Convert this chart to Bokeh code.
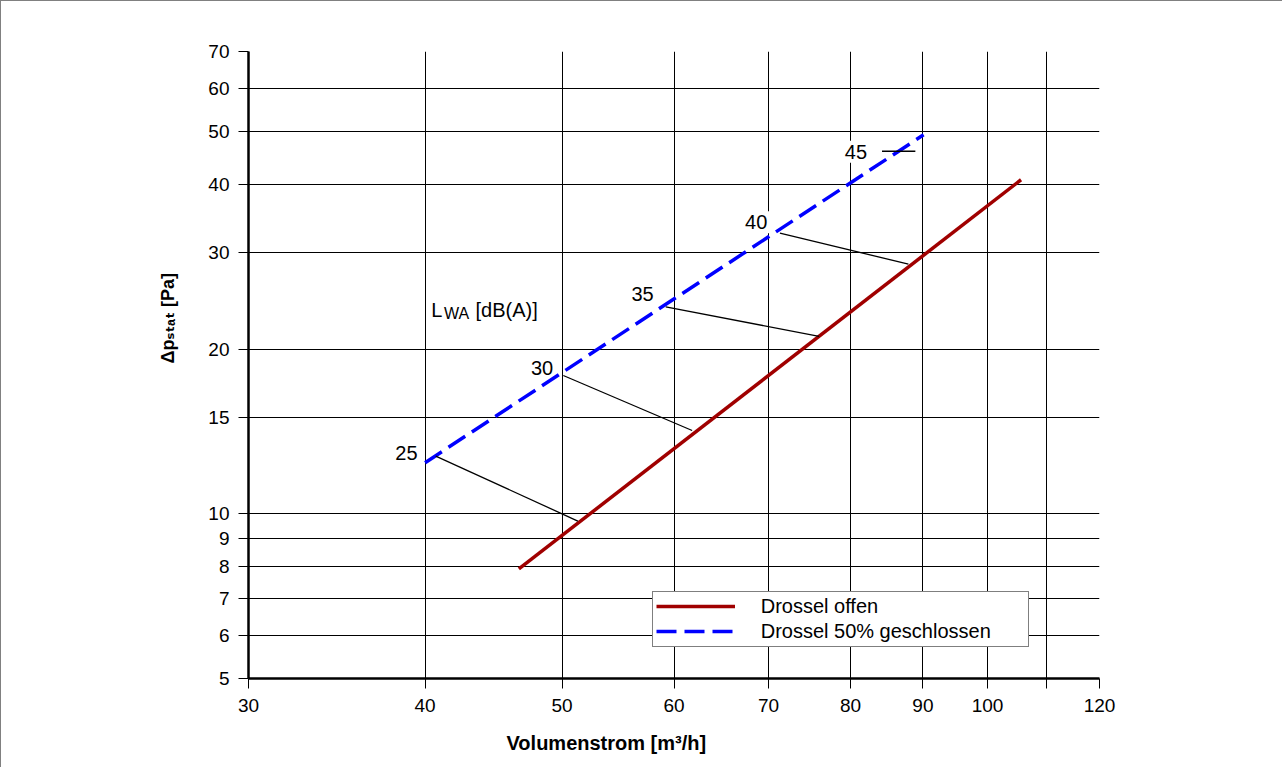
from bokeh.plotting import figure
from bokeh.models import Range1d, FixedTicker, NumeralTickFormatter, Label, Legend, LegendItem, Title
from bokeh.embed import file_html
from bokeh.resources import INLINE

# ---------------- data ----------------
x_ticks = [30, 40, 50, 60, 70, 80, 90, 100, 120]
x_minor = [110]
y_ticks = [5, 6, 7, 8, 9, 10, 15, 20, 30, 40, 50, 60, 70]

open_q = [46.6, 105.6]          # Drossel offen
open_dp = [7.93, 40.8]
half_q = [40.0, 90.1]           # Drossel 50% geschlossen
half_dp = [12.4, 49.3]

noise_levels = ["25", "30", "35", "40", "45"]
noise_q_start = [40.7, 50.1, 59.2, 71.3, 84.2]
noise_dp_start = [12.75, 17.9, 23.9, 32.6, 46.0]
noise_q_end = [51.3, 61.8, 76.0, 87.9, 88.9]
noise_dp_end = [9.7, 14.2, 21.1, 28.6, 46.0]
label_q = [38.8, 48.4, 57.0, 68.6, 80.7]
label_dp = [12.9, 18.5, 25.2, 34.1, 45.9]

lwa_q, lwa_dp = 40.4, 23.6

x_title = "Volumenstrom [m³/h]"
y_title = "Δpₛₜₐₜ [Pa]"

FONT = "Liberation Sans"

p = figure(width=1282, height=767, x_axis_type="log", y_axis_type="log",
           x_range=Range1d(30, 120), y_range=Range1d(5, 70),
           output_backend="svg", toolbar_location=None,
           min_border_left=247, min_border_right=184,
           min_border_top=50, min_border_bottom=89)
p.outline_line_color = None
p.background_fill_color = "white"
p.border_fill_color = "white"
p.styles = {"border-top": "1px solid #808080", "border-left": "1px solid #808080"}

for ax, ticks, minor in ((p.xaxis[0], x_ticks, x_minor), (p.yaxis[0], y_ticks, [])):
    ax.ticker = FixedTicker(ticks=ticks, minor_ticks=minor)
    ax.formatter = NumeralTickFormatter(format="0")
    ax.axis_line_width = 2.5
    ax.axis_line_color = "black"
    ax.major_tick_line_color = "black"
    ax.major_tick_line_width = 1
    ax.major_tick_out = 10
    ax.major_tick_in = 0
    ax.minor_tick_line_color = "black"
    ax.minor_tick_line_width = 1
    ax.minor_tick_out = 10
    ax.minor_tick_in = 0
    ax.major_label_text_font = FONT
    ax.major_label_text_font_size = "19px"
    ax.major_label_text_color = "black"
p.xaxis[0].major_label_standoff = 10
p.yaxis[0].major_label_standoff = 9

for g in (p.xgrid[0], p.ygrid[0]):
    g.grid_line_color = "black"
    g.grid_line_width = 1
    g.level = "image"
p.xgrid[0].minor_grid_line_color = "black"
p.xgrid[0].minor_grid_line_width = 1

# noise level labels (white boxes hide the grid)
for t, q, dp in zip(noise_levels, label_q, label_dp):
    p.add_layout(Label(x=q, y=dp, text=t, text_align="center", text_baseline="middle",
                       text_font=FONT, text_font_size="20px", text_color="black",
                       background_fill_color="white", padding=4, level="underlay"))

# L_WA [dB(A)]
p.add_layout(Label(x=lwa_q, y=lwa_dp, text="L", text_font=FONT, text_font_size="20px",
                   text_color="black", text_baseline="alphabetic",
                   background_fill_color="white", level="underlay"))
p.add_layout(Label(x=lwa_q, y=lwa_dp, text="[dB(A)]", x_offset=44.3,
                   text_font=FONT, text_font_size="20px", text_color="black",
                   text_baseline="alphabetic", background_fill_color="white",
                   level="underlay"))
p.add_layout(Label(x=lwa_q, y=lwa_dp, text="WA", x_offset=12.8, y_offset=-3.3,
                   text_font=FONT, text_font_size="16px", text_color="black",
                   text_baseline="alphabetic", level="underlay"))

r_open = p.line(open_q, open_dp, line_color="#A00000", line_width=3.5)
r_half = p.line(half_q, half_dp, line_color="#0000FF", line_width=3.5, line_dash="20 8")
p.segment(x0=noise_q_start, y0=noise_dp_start, x1=noise_q_end, y1=noise_dp_end,
          line_color="black", line_width=1.3)

legend = Legend(items=[LegendItem(label="Drossel offen", renderers=[r_open]),
                       LegendItem(label="Drossel 50% geschlossen", renderers=[r_half])],
                location=(403.7, 31.5), orientation="vertical", glyph_width=79, glyph_height=20,
                label_standoff=26, label_width=264, padding=3, spacing=2, margin=0,
                border_line_color="black", border_line_width=1,
                background_fill_color="white", background_fill_alpha=1,
                label_text_font=FONT, label_text_font_size="20px", label_text_color="black")
p.add_layout(legend)

# axis titles
p.add_layout(Title(text=x_title, align="left", offset=258, standoff=30,
                   text_font=FONT, text_font_size="20px", text_font_style="bold",
                   text_color="black"), "below")
p.add_layout(Title(text=y_title, align="left", offset=315, standoff=55,
                   text_font="Liberation Sans, DejaVu Sans", text_font_size="18px",
                   text_font_style="bold", text_color="black"), "left")

open("out.html", "w").write(file_html(p, INLINE))
